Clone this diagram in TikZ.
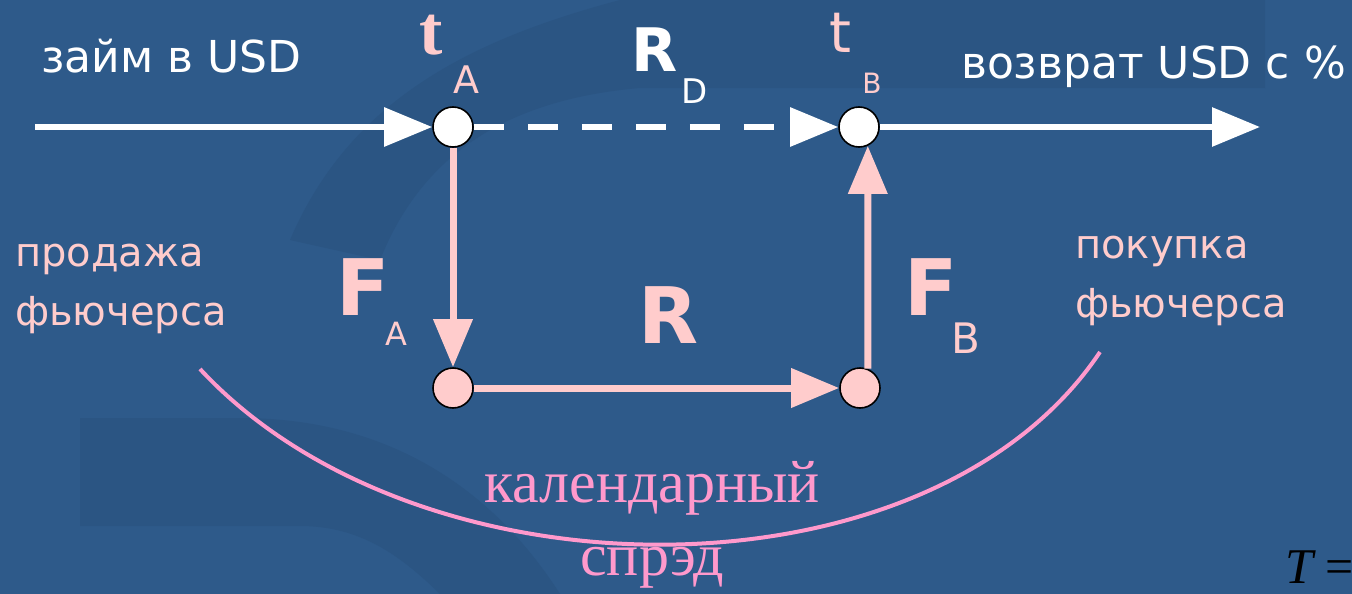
\documentclass[tikz,border=0pt]{standalone}
\usepackage{fontspec}
\setmainfont{Liberation Serif}
\setsansfont{DejaVu Sans}
\usepackage{xcolor}
\usetikzlibrary{arrows.meta, positioning, calc}

\definecolor{bgblue}{HTML}{2E5A8A}
\definecolor{swirlblue}{HTML}{2B5583}
\definecolor{notepink}{HTML}{FFCCCC}
\definecolor{spreadpink}{HTML}{FF99CC}

\newcommand{\pxfont}[1]{\fontsize{#1}{#1}\selectfont}

\begin{document}
\begin{tikzpicture}[x=1pt, y=-1pt,
  dot/.style={circle, draw=black, line width=1.6pt, minimum size=40pt, inner sep=0pt},
  cashflow/.style={-{Triangle[length=48pt, width=38pt]}, white, line width=6pt},
  futflow/.style={-{Triangle[length=48pt, width=38pt]}, notepink, line width=7pt},
  whitetxt/.style={white, font=\sffamily\pxfont{44}, inner sep=0pt},
  sidetxt/.style={notepink, font=\sffamily\fontsize{40}{59}\selectfont, inner sep=0pt, align=left},
  bigletter/.style={font=\sffamily\bfseries\pxfont{78}, inner ysep=0pt, inner xsep=-4pt},
  subletter/.style={notepink, font=\sffamily\pxfont{32}, inner ysep=0pt, inner xsep=-2pt}
]
\useasboundingbox (0,0) rectangle (1352,594);
\clip (0,0) rectangle (1352,594);
\fill[bgblue] (0,0) rectangle (1352,594);
% faint swirl of the slide background
\fill[swirlblue] (80,418) -- (240,418) .. controls (400,418) and (500,500) .. (560,594) -- (440,594) .. controls (400,555) and (360,526) .. (300,526) -- (80,526) -- cycle;
\fill[swirlblue] (290,240) .. controls (350,100) and (470,40) .. (620,0) -- (1265,0) -- (1265,88) -- (640,88) .. controls (500,100) and (420,160) .. (380,260) -- cycle;

% dates and futures
\node[dot, fill=white] (tA) at (453,127) {};
\node[dot, fill=white] (tB) at (859,127) {};
\node[dot, fill=notepink] (fA) at (453,388) {};
\node[dot, fill=notepink] (fB) at (860,388) {};
\coordinate (loanin) at (35,127);
\coordinate (loanout) at (1260,127);
\coordinate (arcL) at (200,369);
\coordinate (arcR) at (1100,352);

\draw[cashflow] (loanin) -- (tA);
\draw[cashflow, dash pattern=on 30pt off 24pt] (tA) -- (tB);
\draw[cashflow] (tB) -- (loanout);
\draw[futflow] (tA) -- (fA);
\draw[futflow] (fA) -- (fB);
\draw[futflow] (fB.68) -- (tB.-65);
\draw[spreadpink, line width=4pt] (arcL) .. controls (420,606) and (930,606) .. (arcR);

% texts
\node[whitetxt, anchor=base west] (loan) at (41,73) {займ в USD};
\node[whitetxt, anchor=base east] (repay) at (1346,78) {возврат USD с \%};
\node[notepink, font=\rmfamily\bfseries\pxfont{70}, inner sep=0pt, anchor=base] (tAt) at (431,55) {t};
\node[subletter, font=\sffamily\pxfont{38}, anchor=base] (tAsub) at (466,93) {A};
\node[notepink, font=\sffamily\pxfont{56}, inner sep=0pt, anchor=base] (tBt) at (840,53) {t};
\node[subletter, font=\sffamily\pxfont{28}, anchor=base] (tBsub) at (872,93) {B};
\node[bigletter, white, font=\sffamily\bfseries\pxfont{60}, anchor=base] (rd) at (655,72) {R};
\node[whitetxt, font=\sffamily\pxfont{34}, anchor=base] (rdsub) at (695,103) {D};
\node[bigletter, notepink, anchor=base] (fAlbl) at (363,315) {F};
\node[subletter, anchor=base] (fAsub) at (396,345) {A};
\node[bigletter, notepink, anchor=base] (rlbl) at (669,343) {R};
\node[bigletter, notepink, anchor=base] (fBlbl) at (931,315) {F};
\node[subletter, font=\sffamily\pxfont{42}, anchor=base] (fBsub) at (966,353) {B};
\node[sidetxt, anchor=base west] (sell) at (15,325) {продажа\\фьючерса};
\node[sidetxt, anchor=base west] (buy) at (1075,317) {покупка\\фьючерса};
\node[spreadpink, font=\rmfamily\fontsize{60}{73}\selectfont, inner sep=0pt, align=center, anchor=base] (spread) at (652,575) {календарный\\спрэд};
\node[black, font=\rmfamily\pxfont{50}, inner sep=0pt, anchor=base west] (tee) at (1285,583) {\itshape T\upshape\ =};
\end{tikzpicture}
\end{document}
